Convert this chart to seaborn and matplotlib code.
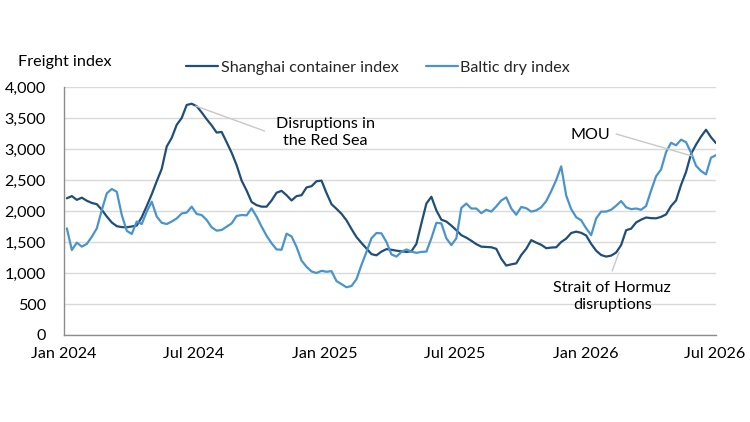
import numpy as np
import pandas as pd
import matplotlib
matplotlib.use("Agg")
import matplotlib.pyplot as plt
import seaborn as sns
from matplotlib.lines import Line2D

# ---------------- data (weekly) ----------------
start_date = "2024-01-05"
n_weeks = 131

shanghai = [
    2205, 2240, 2180, 2215, 2165, 2130, 2110, 2020, 1910, 1815,
    1755, 1740, 1738, 1750, 1765, 1900, 2080, 2270, 2480, 2680,
    3040, 3180, 3390, 3500, 3710, 3730, 3690, 3590, 3480, 3380,
    3265, 3275, 3110, 2940, 2740, 2490, 2330, 2145, 2095, 2070,
    2070, 2170, 2295, 2325, 2255, 2170, 2240, 2255, 2380, 2400,
    2480, 2490, 2290, 2110, 2035, 1955, 1850, 1710, 1580, 1485,
    1395, 1305, 1285, 1345, 1385, 1375, 1360, 1350, 1340, 1350,
    1470, 1800, 2120, 2230, 2010, 1860, 1830, 1765, 1690, 1610,
    1570, 1520, 1465, 1425, 1420, 1415, 1390, 1230, 1120, 1140,
    1155, 1290, 1390, 1530, 1490, 1455, 1400, 1410, 1415, 1500,
    1555, 1645, 1667, 1648, 1605, 1470, 1360, 1290, 1265, 1280,
    1330, 1450, 1690, 1715, 1815, 1860, 1895, 1885, 1882, 1905,
    1945, 2080, 2170, 2420, 2630, 2920, 3070, 3200, 3310, 3190,
    3095,
]

baltic = [
    1720, 1370, 1490, 1425, 1470, 1585, 1720, 2015, 2285, 2355,
    2310, 1935, 1680, 1630, 1830, 1790, 1990, 2150, 1910, 1810,
    1790, 1830, 1880, 1960, 1975, 2070, 1952, 1935, 1855, 1737,
    1683, 1694, 1747, 1800, 1920, 1935, 1930, 2043, 1908, 1747,
    1600, 1480, 1380, 1375, 1635, 1590, 1420, 1200, 1100, 1025,
    1000, 1035, 1020, 1030, 870, 820, 770, 790, 900, 1130,
    1340, 1560, 1645, 1640, 1500, 1300, 1265, 1340, 1380, 1345,
    1325, 1340, 1345, 1560, 1810, 1800, 1560, 1450, 1560, 2050,
    2120, 2040, 2040, 1965, 2020, 1990, 2075, 2170, 2220, 2040,
    1940, 2065, 2045, 1990, 2010, 2060, 2160, 2320, 2500, 2720,
    2250, 2030, 1900, 1850, 1720, 1610, 1880, 1990, 1990, 2020,
    2085, 2160, 2060, 2030, 2040, 2020, 2080, 2330, 2560, 2670,
    2950, 3100, 3060, 3150, 3110, 2940, 2730, 2645, 2590, 2860,
    2900,
]

series_names = ["Shanghai container index", "Baltic dry index"]
y_ticks = [0, 500, 1000, 1500, 2000, 2500, 3000, 3500, 4000]
x_tick_dates = ["2024-01-01", "2024-07-01", "2025-01-01",
                "2025-07-01", "2026-01-01", "2026-07-01"]
x_tick_labels = ["Jan 2024", "Jul 2024", "Jan 2025",
                 "Jul 2025", "Jan 2026", "Jul 2026"]

dates = pd.date_range(start_date, periods=n_weeks, freq="7D")
df = pd.DataFrame({
    "date": np.concatenate([dates, dates]),
    "value": shanghai + baltic,
    "series": [series_names[0]] * n_weeks + [series_names[1]] * n_weeks,
})

# ---------------- style ----------------
sns.set_theme(style="white")
plt.rcParams["font.family"] = ["Lato", "DejaVu Sans"]
text_color = "#000000"
dark_blue = "#1f4e79"
light_blue = "#4a94cc"
grid_color = "#d9d9d9"
axis_color = "#8c8c8c"
lead_color = "#c8c8c8"
fs = 11.6

fig = plt.figure(figsize=(7.5, 4.22), dpi=100)
ax = fig.add_axes([64 / 750, 1 - 335 / 422, (716 - 64) / 750, (335 - 87) / 422])

sns.lineplot(data=df, x="date", y="value", hue="series",
             palette=[dark_blue, light_blue], linewidth=1.6,
             ax=ax, legend=False)

ax.set_xlim(dates[0], dates[-1])
ax.set_ylim(0, 4000)
ax.set_yticks(y_ticks)
ax.set_yticklabels([f"{v:,}" for v in y_ticks], fontsize=fs, color=text_color)
ax.set_xticks(pd.to_datetime(x_tick_dates))
ax.set_xticklabels(x_tick_labels, fontsize=fs, color=text_color)
ax.tick_params(axis="both", length=0)
ax.tick_params(axis="y", pad=13)
ax.tick_params(axis="x", pad=9)
ax.set_xlabel("")
ax.set_ylabel("")
ax.grid(axis="y", color=grid_color, linewidth=1)
ax.set_axisbelow(True)
for s in ["top", "right"]:
    ax.spines[s].set_visible(False)
for s in ["left", "bottom"]:
    ax.spines[s].set_color(axis_color)
    ax.spines[s].set_linewidth(1)

# y title
fig.text(18 / 750, 1 - 62 / 422, "Freight index", fontsize=fs,
         color=text_color, ha="left", va="center")

# legend
handles = [Line2D([], [], color=dark_blue, linewidth=1.6),
           Line2D([], [], color=light_blue, linewidth=1.6)]
fig.legend(handles, series_names, loc="center", ncol=2,
           bbox_to_anchor=(378 / 750, 1 - 68 / 422), frameon=False,
           fontsize=fs, handlelength=2.0, handletextpad=0.15,
           columnspacing=1.7)

# annotations
def wk(w):
    return pd.Timestamp(start_date) + pd.Timedelta(weeks=w)

ax.text(wk(51.8), 3266, "Disruptions in\nthe Red Sea", fontsize=fs,
        ha="center", va="center", linespacing=1.3, color=text_color)
ax.plot([wk(25.8), wk(39.6)], [3694, 3290], color=lead_color, linewidth=1)

ax.text(wk(108.8), 3226, "MOU", fontsize=fs, ha="right", va="center",
        color=text_color)
ax.plot([wk(110), wk(125.2)], [3242, 2887], color=lead_color, linewidth=1)

ax.text(wk(109.2), 621, "Strait of Hormuz\ndisruptions", fontsize=fs,
        ha="center", va="center", linespacing=1.3, color=text_color)
ax.plot([wk(109.2), wk(110.6)], [1032, 1339], color=lead_color, linewidth=1)

fig.savefig("out.png", dpi=100, facecolor="white")
